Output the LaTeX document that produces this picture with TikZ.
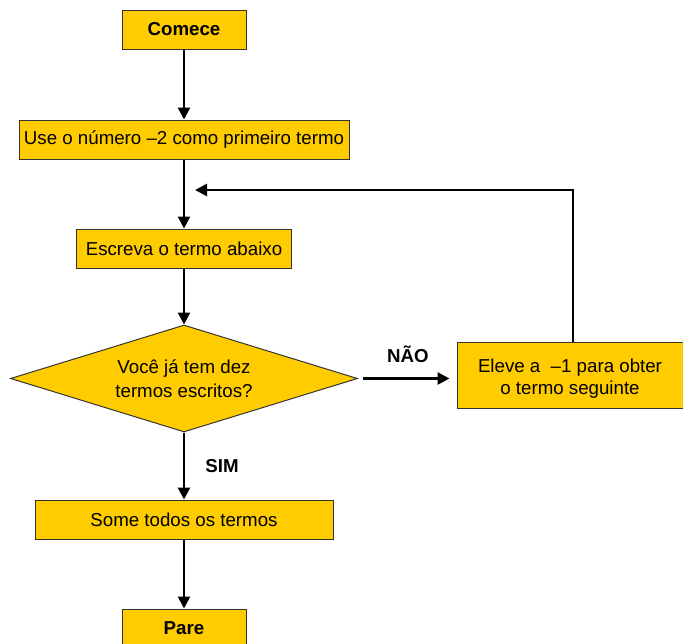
\documentclass[tikz,border=0pt]{standalone}
\usepackage{fontspec}
\setmainfont{Liberation Sans}
\usetikzlibrary{shapes.geometric,arrows.meta}
\definecolor{boxfill}{HTML}{FFCC00}
\definecolor{edge}{HTML}{333333}
\begin{document}
\begin{tikzpicture}[x=1pt,y=-1pt,
  box/.style={draw=edge, line width=1pt, fill=boxfill, inner sep=0pt,
    font=\fontsize{18.7}{22}\selectfont, align=center},
  boldbox/.style={box, font=\fontsize{18.7}{22}\selectfont\bfseries},
  conn/.style={line width=2.7pt, -{Triangle[width=12pt,length=12pt]}},
  lbl/.style={font=\fontsize{18.7}{22}\selectfont\bfseries}]
\useasboundingbox (0,0) rectangle (683,643);
\node[boldbox, minimum width=124pt, minimum height=39pt] (start) at (184,29.5) {Comece};
\node[box, minimum width=330pt, minimum height=39pt] (use) at (184,139.5) {Use o número –2 como primeiro termo};
\node[box, minimum width=215pt, minimum height=39pt] (esc) at (184,248.5) {Escreva o termo abaixo};
\node[box, shape=diamond, minimum width=347pt, minimum height=107pt, aspect=3.24,
  font=\fontsize{18.7}{24}\selectfont] (dec) at (184,378.5) {Você já tem dez\\termos escritos?};
\node[box, minimum width=226pt, minimum height=66pt] (elev) at (570,375) {\rule{0pt}{20pt}Eleve a\ \ –1 para obter\\o termo seguinte};
\node[box, minimum width=298pt, minimum height=39pt] (some) at (184,519.5) {Some todos os termos};
\node[boldbox, minimum width=124pt, minimum height=39pt] (pare) at (184,628.5) {Pare};
\coordinate (loopend) at (195,190);
\node[lbl] (nao) at (408,354) {NÃO};
\node[lbl] (sim) at (222,466) {SIM};
\draw[conn] (start) -- (use);
\draw[conn] (use) -- (esc);
\draw[conn] (esc) -- (dec);
\draw[conn] (dec) -- (some);
\draw[conn] (some) -- (pare);
\draw[conn] ([xshift=5pt]dec.east) -- ([xshift=-7pt]dec.east -| elev.west);
\draw[conn] ([xshift=3pt]elev.north) |- (loopend);
\end{tikzpicture}
\end{document}
